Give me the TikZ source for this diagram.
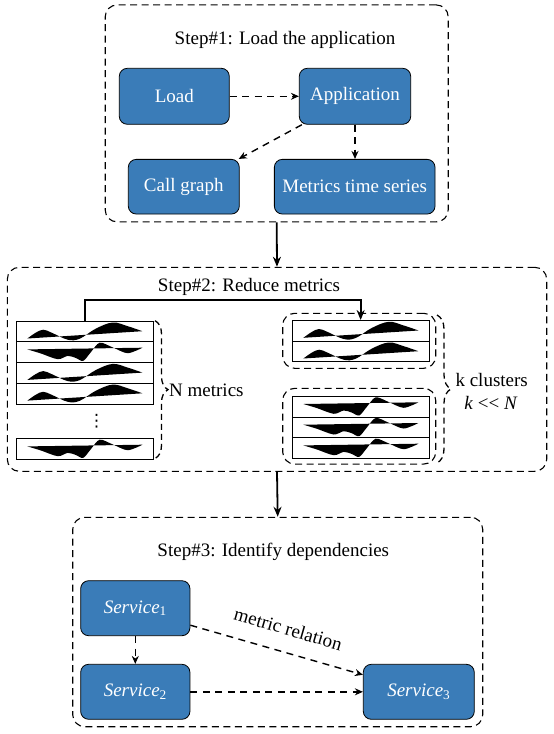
\documentclass[tikz,border=0pt]{standalone}
\usepackage{fontspec}
\setmainfont{Liberation Serif}
\newfontfamily\dejavu{DejaVu Sans}
\usetikzlibrary{arrows.meta,decorations.pathreplacing}
\definecolor{boxblue}{RGB}{58,124,184}
\begin{document}
\begin{tikzpicture}[x=1pt,y=-1pt,
  font=\fontsize{19}{22}\selectfont,
  blk/.style={draw=black, line width=0.8pt, fill=boxblue, rounded corners=8pt, text=white, inner sep=0pt},
  group/.style={draw, dash pattern=on 7pt off 4.5pt, line width=1.1pt, rounded corners=12pt, inner sep=0pt},
  dasharrow/.style={dash pattern=on 7pt off 5.5pt, line width=1.4pt, -{Stealth[length=8pt,width=7pt]}},
  flowarrow/.style={line width=1.8pt, -{Stealth[length=10pt,width=8pt]}},
  rowbox/.style={draw, line width=0.9pt, minimum width=137pt, minimum height=20.7pt, inner sep=0pt, anchor=north west},
  dbrace/.style={decorate, dash pattern=on 6pt off 4pt, line width=1.3pt},
  waveA/.pic={\fill plot[smooth, tension=0.6] coordinates {(11.7,17.8) (20,12) (27.5,9) (36,12) (52,19) (64,18) (80,8) (97,1.8) (112,5.5) (126.7,10.5)} -- cycle;},
  waveB/.pic={\fill plot[smooth, tension=0.5] coordinates {(11.7,8) (25,12) (42,17.8) (52,14.5) (60,16.5) (67.5,19.5) (75,11) (84,1.3) (97,6) (112,11.8) (126.7,6.3)} -- cycle;}
]
\useasboundingbox (0,0) rectangle (554,734);

% ---------- Step 1 ----------
\node[group, minimum width=343pt, minimum height=217pt] (g1) at (276.7,113.4) {};
\node (t1) at (285,40) {Step\#1: Load the application};
\node[blk, minimum width=110pt, minimum height=56pt] (load) at (174.3,96.3) {Load};
\node[blk, minimum width=111.4pt, minimum height=56pt] (app) at (355,96.3) {Application};
\node[blk, minimum width=111pt, minimum height=54.7pt] (cg) at (183.8,186.7) {Call graph};
\node[blk, minimum width=160.7pt, minimum height=54.7pt] (mts) at (354.7,186.7) {Metrics time series};
\draw[dasharrow] (load) -- (app);
\draw[dasharrow] ([xshift=3pt]app.south west) -- ([xshift=-1pt]cg.north east);
\draw[dasharrow] (app.south) -- (app.south |- mts.north);

% ---------- Step 2 ----------
\node[group, minimum width=539.4pt, minimum height=204pt] (g2) at (277,369.3) {};
\draw[flowarrow] (g1.south) -- (g2.north);
\node (t2) at (249,287) {Step\#2: Reduce metrics};

\node[rowbox] (r1) at (15.7,320.7) {};
\node[rowbox] (r2) at (15.7,341.4) {};
\node[rowbox] (r3) at (15.7,362.1) {};
\node[rowbox] (r4) at (15.7,382.8) {};
\node[rowbox] (r5) at (15.7,438.4) {};
\pic at (r1.north west) {waveA};
\pic at (r2.north west) {waveB};
\pic at (r3.north west) {waveA};
\pic at (r4.north west) {waveA};
\pic at (r5.north west) {waveB};
\node[font=\dejavu\fontsize{17}{20}\selectfont, inner sep=0pt] (dots) at (96.7,421.5) {⋮};

\node[group, minimum width=153pt, minimum height=55pt] (c1) at (359.2,340.8) {};
\node[group, minimum width=153pt, minimum height=75.7pt] (c2) at (359.2,426.2) {};
\node[rowbox] (cr1) at (291.7,320) {};
\node[rowbox] (cr2) at (291.7,340.7) {};
\node[rowbox] (cr3) at (291.7,396) {};
\node[rowbox] (cr4) at (291.7,416.7) {};
\node[rowbox] (cr5) at (291.7,437.4) {};
\pic at (cr1.north west) {waveA};
\pic at (cr2.north west) {waveA};
\pic at (cr3.north west) {waveB};
\pic at (cr4.north west) {waveB};
\pic at (cr5.north west) {waveB};

\draw[flowarrow] (r1.north) -- ++(0,-20.7) -| (cr1.north);

\draw[dbrace, decoration={brace, amplitude=13pt}] (155,320.7) -- (155,458.5);
\node[anchor=west, inner sep=1pt] (nlab) at (168,390) {N metrics};
\draw[dbrace, decoration={brace, amplitude=14pt}] (437,315) -- (437,463);
\node (klab) at (491.7,380) {k clusters};
\node (kn) at (491,403) {\textit{k} <{}< \textit{N}};

% ---------- Step 3 ----------
\node[group, minimum width=410pt, minimum height=209.4pt] (g3) at (277.7,622) {};
\draw[flowarrow] (g2.south) -- (g3.north);
\node (t3) at (273.3,551.7) {Step\#3: Identify dependencies};
\node[blk, minimum width=109.3pt, minimum height=55pt] (s1) at (135.3,608.2) {\textit{Service}\textsubscript{1}};
\node[blk, minimum width=109.3pt, minimum height=55pt] (s2) at (135.3,691.8) {\textit{Service}\textsubscript{2}};
\node[blk, minimum width=111pt, minimum height=55pt] (s3) at (418.8,691.8) {\textit{Service}\textsubscript{3}};
\draw[dasharrow] (s1) -- (s2);
\draw[dasharrow] (s2) -- (s3);
\draw[dasharrow] ([yshift=-17pt]s1.east) -- node[pos=0.53, sloped, above=15pt, inner sep=1pt] {metric relation} ([yshift=17pt]s3.west);
\end{tikzpicture}
\end{document}
